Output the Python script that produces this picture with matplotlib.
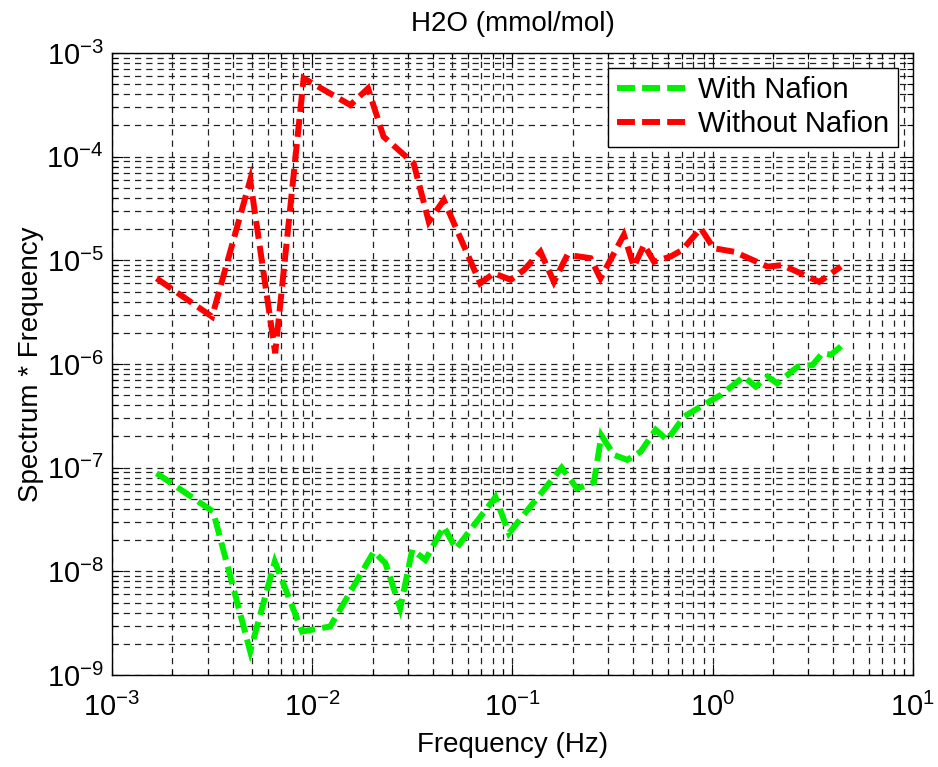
import matplotlib
matplotlib.use("Agg")
import matplotlib.pyplot as plt
from matplotlib.ticker import LogLocator, NullFormatter

plt.rcParams['font.family'] = ['Liberation Sans', 'DejaVu Sans']
plt.rcParams['mathtext.default'] = 'regular'

title = "H2O (mmol/mol)"
xlabel = "Frequency (Hz)"
ylabel = "Spectrum * Frequency"

freq_with = [1.67e-3, 3.2e-3, 4.9e-3, 6.5e-3, 8.9e-3, 0.0123, 0.0203, 0.0232, 0.0275,
             0.0316, 0.0367, 0.0454, 0.0522, 0.0822, 0.096, 0.176, 0.21, 0.255, 0.278,
             0.321, 0.374, 0.437, 0.519, 0.593, 0.719, 0.871, 1.1, 1.43, 1.64, 1.88,
             2.1, 2.65, 3.15, 3.53, 3.9, 4.37]
spec_with = [8.85e-8, 3.77e-8, 1.69e-9, 1.24e-8, 2.63e-9, 2.94e-9, 1.55e-8, 1.2e-8, 4.4e-9,
             1.62e-8, 1.29e-8, 2.7e-8, 1.65e-8, 5.2e-8, 2.33e-8, 1.0e-7, 6.3e-8, 7.2e-8, 2.05e-7,
             1.33e-7, 1.19e-7, 1.43e-7, 2.32e-7, 1.85e-7, 3.11e-7, 3.89e-7, 5.04e-7, 7.55e-7,
             6.05e-7, 7.55e-7, 6.5e-7, 9.4e-7, 9.8e-7, 1.27e-6, 1.23e-6, 1.48e-6]

freq_without = [1.67e-3, 3.16e-3, 4.9e-3, 6.53e-3, 9.06e-3, 0.0155, 0.019, 0.0227, 0.0321,
                0.0382, 0.0454, 0.069, 0.0807, 0.098, 0.114, 0.138, 0.161, 0.188, 0.245,
                0.275, 0.36, 0.404, 0.454, 0.509, 0.617, 0.705, 0.871, 1.01, 1.28, 1.88,
                2.23, 2.75, 3.4, 4.37]
spec_without = [6.7e-6, 2.86e-6, 5.96e-5, 1.27e-6, 5.7e-4, 3.15e-4, 4.56e-4, 1.56e-4, 8.63e-5,
                2.36e-5, 3.82e-5, 6.0e-6, 7.5e-6, 6.5e-6, 8.07e-6, 1.21e-5, 6.2e-6, 1.13e-5,
                1.05e-5, 6.7e-6, 1.76e-5, 8.7e-6, 1.41e-5, 9.7e-6, 1.09e-5, 1.26e-5, 2.04e-5,
                1.31e-5, 1.21e-5, 8.7e-6, 9.0e-6, 7.5e-6, 6.2e-6, 8.7e-6]

labels = ["With Nafion", "Without Nafion"]

fig = plt.figure(figsize=(9.38, 7.67), dpi=100)
ax = fig.add_axes([0.1194, 0.1199, 0.8539, 0.811])

lw = 4.3
ax.plot(freq_with, spec_with, color='#00f000', lw=lw, dashes=(3.0, 1.2), label=labels[0],
        solid_joinstyle='miter', dash_joinstyle='miter', zorder=3)
ax.plot(freq_without, spec_without, color='#ff0000', lw=lw, dashes=(3.0, 1.2), label=labels[1],
        solid_joinstyle='miter', dash_joinstyle='miter', zorder=3)

ax.set_xscale('log')
ax.set_yscale('log')
ax.set_xlim(1e-3, 1e1)
ax.set_ylim(1e-9, 1e-3)

ax.xaxis.set_major_locator(LogLocator(base=10, numticks=20))
ax.yaxis.set_major_locator(LogLocator(base=10, numticks=20))
ax.xaxis.set_minor_locator(LogLocator(base=10, subs=range(2, 10), numticks=20))
ax.yaxis.set_minor_locator(LogLocator(base=10, subs=range(2, 10), numticks=20))
ax.xaxis.set_minor_formatter(NullFormatter())
ax.yaxis.set_minor_formatter(NullFormatter())

ax.grid(True, which='both', color='#222222', linestyle=(0, (5, 4)), linewidth=0.9)
ax.set_axisbelow(True)

ax.tick_params(which='both', direction='in', top=True, right=True, labelsize=21, width=0.8)
ax.tick_params(which='major', length=8)
ax.tick_params(axis='x', which='major', pad=13)
ax.tick_params(axis='y', which='major', pad=6)
ax.tick_params(which='minor', length=4)
for s in ax.spines.values():
    s.set_linewidth(1.0)

ax.set_title(title, fontsize=20, pad=16)
ax.set_xlabel(xlabel, fontsize=20, labelpad=7)
ax.set_ylabel(ylabel, fontsize=20, labelpad=2)

leg = ax.legend(loc='upper right', fontsize=21, frameon=True, fancybox=False, framealpha=1,
                edgecolor='black', borderaxespad=0.5, handlelength=2.4, handletextpad=0.4,
                labelspacing=0.2, borderpad=0.3)
leg.get_frame().set_linewidth(1.0)

fig.savefig("out.png", dpi=100)
